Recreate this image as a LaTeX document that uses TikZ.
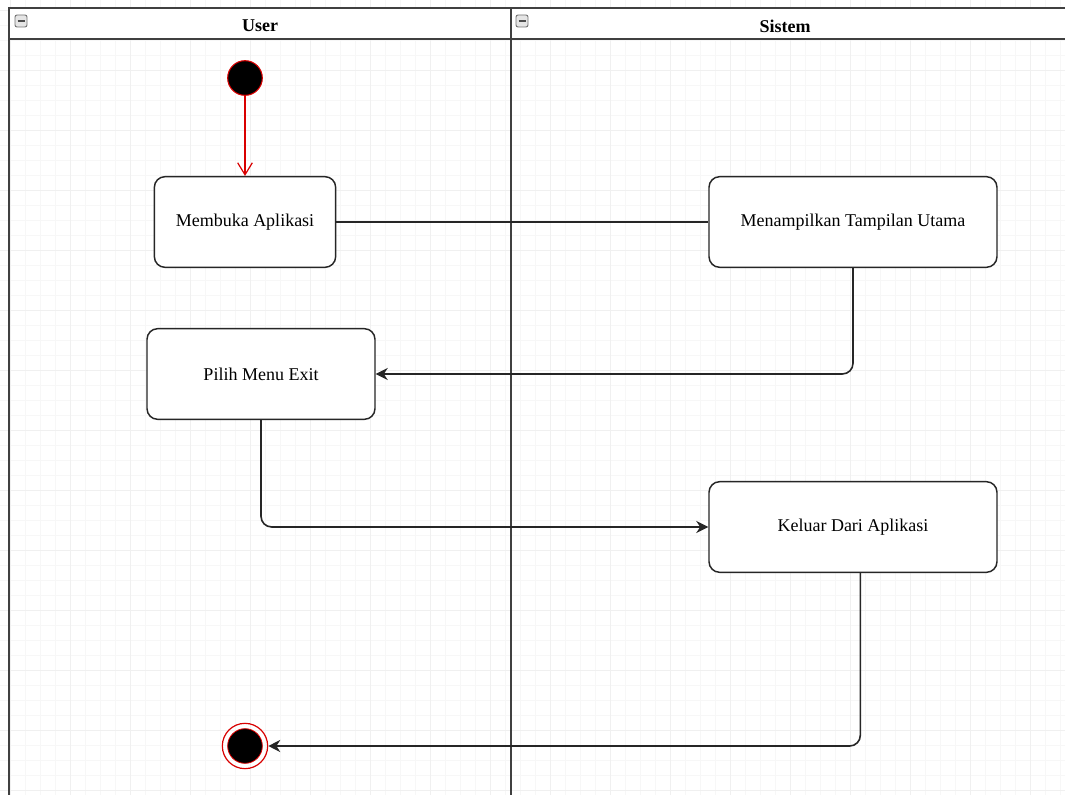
\documentclass[tikz,border=0pt]{standalone}
\usepackage{fontspec}
\setmainfont{Liberation Serif}
\usetikzlibrary{arrows.meta}

\tikzset{
    act/.style={draw=black!85, line width=1.1pt, rounded corners=8pt, fill=white,
        align=center, minimum height=68pt, font=\fontsize{13.5}{16}\selectfont},
    flow/.style={draw=black!85, line width=1.2pt, rounded corners=8pt},
    lane/.style={draw=black!75, line width=1.5pt},
}

\begin{document}
\begin{tikzpicture}[x=0.75pt, y=-0.75pt]
    \useasboundingbox (0, 0) rectangle (1065, 795);
    \fill[white] (0, 0) rectangle (1065, 795);
    % grid
    \foreach \g in {10, 25, ..., 1065} {
        \draw[black!3, line width=0.4pt] (\g, 0) -- (\g, 795);
    }
    \foreach \g in {10, 25, ..., 795} {
        \draw[black!3, line width=0.4pt] (0, \g) -- (1065, \g);
    }
    \foreach \g in {10, 70, ..., 1065} {
        \draw[black!6, line width=0.6pt] (\g, 0) -- (\g, 795);
    }
    \foreach \g in {10, 70, ..., 795} {
        \draw[black!6, line width=0.6pt] (0, \g) -- (1065, \g);
    }

    % swimlanes
    \fill[white] (9, 8) rectangle (1065, 39);
    \draw[lane] (1065, 8) -- (9, 8) -- (9, 795);
    \draw[lane] (9, 39) -- (1065, 39);
    \draw[lane] (511, 8) -- (511, 795);
    \node[font=\fontsize{13.5}{16}\selectfont\bfseries] (user) at (260, 26) {User};
    \node[font=\fontsize{13.5}{16}\selectfont\bfseries] (sistem) at (785, 26) {Sistem};
    \foreach \ix in {21, 522} {
        \draw[black!55, fill=black!10, line width=0.7pt, rounded corners=1.5pt] (\ix-6, 15) rectangle (\ix+6, 27);
        \draw[black!70, line width=1.2pt] (\ix-3.5, 21) -- (\ix+3.5, 21);
    }

    % activities
    \node[circle, fill=black, draw=red!85!black, line width=0.8pt, minimum size=26pt, inner sep=0pt] (start) at (245, 78) {};
    \node[act, minimum width=136pt] (buka) at (245, 222) {Membuka Aplikasi};
    \node[act, minimum width=216pt] (tampil) at (853, 222) {Menampilkan Tampilan Utama};
    \node[act, minimum width=171pt] (exit) at (261, 374) {Pilih Menu Exit};
    \node[act, minimum width=216pt] (keluar) at (853, 527) {Keluar Dari Aplikasi};
    \node[circle, draw=red!85!black, line width=0.9pt, minimum size=34pt, inner sep=0pt] (end) at (245, 746) {};
    \node[circle, fill=black, draw=red!85!black, line width=0.6pt, minimum size=26pt, inner sep=0pt] (endin) at (245, 746) {};

    % flows
    \draw[red!85!black, line width=0.9pt, arrows = {-Straight Barb[width=11pt, length=9pt]}] (start) -- (buka);
    \draw[flow] (buka) -- (tampil);
    \draw[flow, arrows = {-Stealth[width=9pt, length=9pt]}] (tampil.south) |- (exit.east);
    \draw[flow, arrows = {-Stealth[width=9pt, length=9pt]}] (exit.south) |- (keluar.west);
    \draw[flow, arrows = {-Stealth[width=9pt, length=9pt]}] ([xshift=5.5pt]keluar.south) |- (end.east);
\end{tikzpicture}
\end{document}
